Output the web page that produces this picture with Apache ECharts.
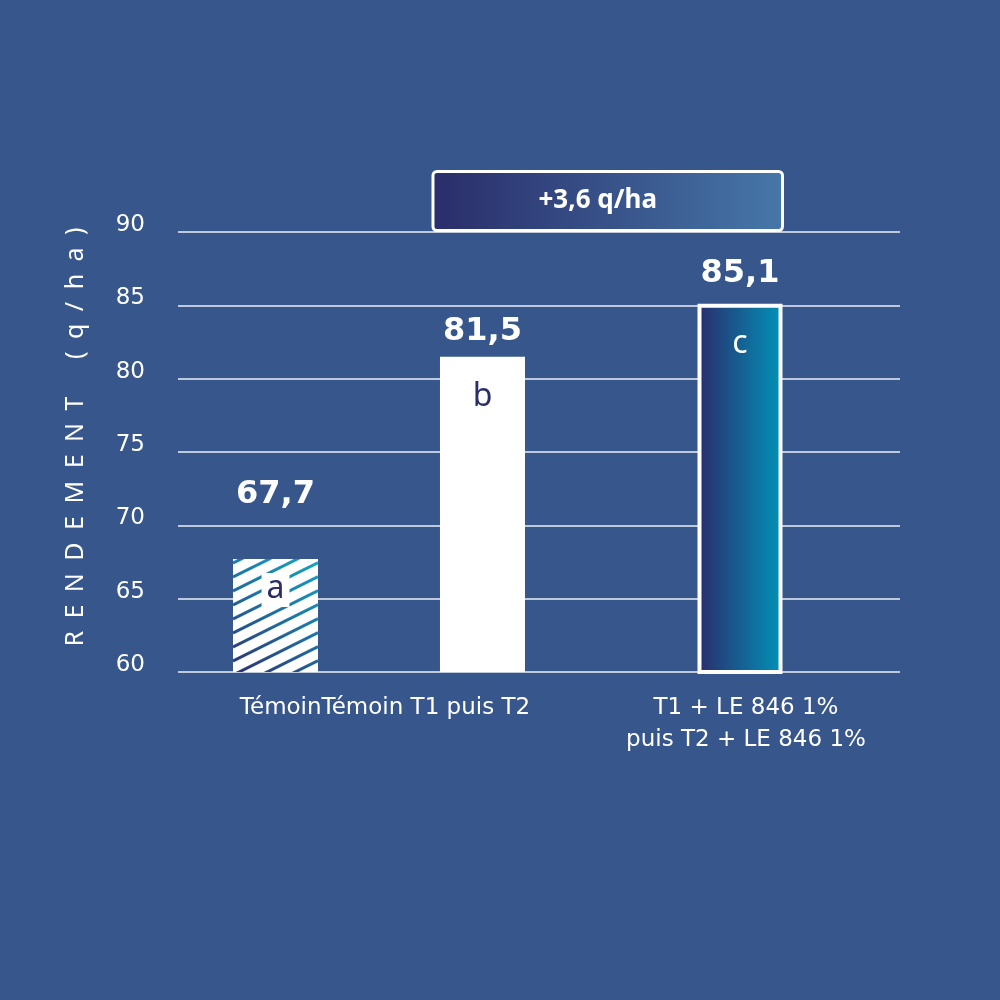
<!DOCTYPE html>
<html>
<head>
<meta charset="utf-8">
<script src="https://cdn.jsdelivr.net/npm/echarts@6/dist/echarts.min.js"></script>
<style>
html,body{margin:0;padding:0;background:#37568b;}
#c{width:1000px;height:1000px;}
</style>
</head>
<body>
<div id="c"></div>
<script>
// ---- data ----
const categories = ['TémoinTémoin T1 puis T2', 'T1 + LE 846 1%\npuis T2 + LE 846 1%'];
const temoin = [67.7, null];
const t1puisT2 = [81.5, null];
const leTreatment = [null, 85.1];
const groupLetters = ['a', 'b', 'c'];
const yMin = 60, yMax = 90, yStep = 5;
const gainText = '+3,6 q/ha';
const yAxisTitle = 'R\u2002E\u2002N\u2002D\u2002E\u2002M\u2002E\u2002N\u2002T\u2002\u2002\u2002(\u2002q\u2002/\u2002h\u2002a\u2002)';

// ---- helpers ----
const fmt = v => v == null ? '' : v.toFixed(1).replace('.', ',');
const zeros = arr => arr.map(v => v == null ? null : 0);
const FONT = 'Noto Sans';
const WIDE = 'DejaVu Sans';
const chart = echarts.init(document.getElementById('c'), null, {renderer: 'canvas'});

function valueLabel(arr, dist) {
  return {
    show: true, position: 'top', distance: dist,
    formatter: p => fmt(arr[p.dataIndex]),
    color: '#fff', fontSize: 32, fontWeight: 'bold', fontFamily: WIDE
  };
}
function letterLabel(letter, color, dist, bg) {
  return {
    show: true, position: 'insideTop', distance: dist,
    formatter: () => letter, color: color, fontSize: 32, fontFamily: FONT,
    backgroundColor: bg || 'transparent', padding: bg ? [0, 5, 2, 5] : 0
  };
}

function buildOption(hatched, graphic) {
  return {
    backgroundColor: '#37568b',
    animation: false,
    grid: [
      {left: 178, right: 100, top: 232, bottom: 328},
      {left: 198.5, right: 79.5, top: 232, bottom: 328}
    ],
    xAxis: [
      {gridIndex: 0, type: 'category', data: categories, show: false},
      {gridIndex: 1, type: 'category', data: categories,
        axisLine: {show: false}, axisTick: {show: false},
        axisLabel: {color: '#fff', fontSize: 23, fontFamily: WIDE, lineHeight: 32,
          margin: 20, padding: [0, 0, 0, 12], interval: 0}},
      {gridIndex: 1, type: 'category', data: categories, show: false}
    ],
    yAxis: [
      {gridIndex: 0, type: 'value', min: yMin, max: yMax, interval: yStep,
        axisLine: {show: false}, axisTick: {show: false},
        axisLabel: {color: '#fff', fontSize: 23, fontFamily: WIDE, margin: 33,
          verticalAlign: 'bottom', lineHeight: 14},
        splitLine: {lineStyle: {color: '#edf1f8', width: 1.5}},
        name: yAxisTitle, nameLocation: 'middle', nameRotate: 90, nameGap: 90,
        nameTextStyle: {color: '#fff', fontSize: 25, fontFamily: FONT, padding: [0, 0, 0, 30]}},
      {gridIndex: 1, type: 'value', min: yMin, max: yMax, interval: yStep, show: false,
        splitLine: {show: false}}
    ],
    series: [
      {type: 'bar', name: 'Témoin', xAxisIndex: 1, yAxisIndex: 1, stack: 'A', data: temoin,
        barWidth: 85, barGap: '143.5%', silent: true, z: 3,
        itemStyle: {color: hatched ? 'transparent' : '#ffffff'},
        label: letterLabel(groupLetters[0], '#2b2d66', 14, '#ffffff')},
      {type: 'bar', xAxisIndex: 1, yAxisIndex: 1, stack: 'A', data: zeros(temoin),
        barWidth: 85, barGap: '143.5%', silent: true,
        itemStyle: {color: 'transparent'}, label: valueLabel(temoin, 48)},
      {type: 'bar', name: 'Témoin T1 puis T2', xAxisIndex: 1, yAxisIndex: 1, stack: 'B', data: t1puisT2,
        barWidth: 85, barGap: '143.5%', silent: true,
        itemStyle: {color: '#ffffff'},
        label: letterLabel(groupLetters[1], '#2b2d66', 24)},
      {type: 'bar', xAxisIndex: 1, yAxisIndex: 1, stack: 'B', data: zeros(t1puisT2),
        barWidth: 85, barGap: '143.5%', silent: true,
        itemStyle: {color: 'transparent'}, label: valueLabel(t1puisT2, 9)},
      {type: 'bar', name: 'T1 + LE 846 1% puis T2 + LE 846 1%', xAxisIndex: 2, yAxisIndex: 1, stack: 'C',
        data: leTreatment, barWidth: 85, silent: true,
        itemStyle: {
          color: {type: 'linear', x: 0, y: 0, x2: 1, y2: 0,
            colorStops: [{offset: 0, color: '#2b2c6c'}, {offset: 1, color: '#0093b8'}]},
          borderColor: '#ffffff', borderWidth: 4
        },
        label: letterLabel(groupLetters[2], '#ffffff', 24)},
      {type: 'bar', xAxisIndex: 2, yAxisIndex: 1, stack: 'C', data: zeros(leTreatment),
        barWidth: 85, silent: true,
        itemStyle: {color: 'transparent'}, label: valueLabel(leTreatment, 14)}
    ],
    graphic: graphic || []
  };
}

chart.setOption(buildOption(false, []));

// ---- derive decorative elements from the library's own layout ----
const L1 = chart.getModel().getSeriesByIndex(0).getData().getItemLayout(0);
const L2 = chart.getModel().getSeriesByIndex(2).getData().getItemLayout(0);
const L3 = chart.getModel().getSeriesByIndex(4).getData().getItemLayout(1);
const yBase = chart.convertToPixel({yAxisIndex: 1}, yMin);   // visible bottom of the grid
const y90 = chart.convertToPixel({yAxisIndex: 0}, yMax);

// hatch image for the control bar, sized to its visible (clipped) extent
const b1x = Math.min(L1.x, L1.x + L1.width);
const b1top = Math.min(L1.y, L1.y + L1.height);
const b1bot = Math.min(Math.max(L1.y, L1.y + L1.height), yBase);
const bw = Math.abs(L1.width), bh = b1bot - b1top;
const pc = document.createElement('canvas');
pc.width = Math.round(bw); pc.height = Math.round(bh);
const ctx = pc.getContext('2d');
ctx.fillStyle = '#ffffff';
ctx.fillRect(0, 0, pc.width, pc.height);
const g = ctx.createLinearGradient(pc.width, 0, 0, pc.height);
g.addColorStop(0, '#10a3c0');
g.addColorStop(0.45, '#1a72a3');
g.addColorStop(1, '#2a2e70');
ctx.strokeStyle = g;
ctx.lineWidth = 3;
const slope = 0.5, spacing = 14;
for (let c = 4; c < pc.height + pc.width * slope + spacing; c += spacing) {
  ctx.beginPath();
  ctx.moveTo(0, c);
  ctx.lineTo(pc.width, c - pc.width * slope);
  ctx.stroke();
}

// gain box above bars b and c
const boxLeft = L2.x - 7;
const boxRight = L3.x + L3.width;
const boxH = 62;
const graphic = [
  {type: 'image', silent: true, z: 1, x: b1x, y: b1top,
    style: {image: pc, width: bw, height: bh}},
  {type: 'rect', silent: true, z: 10,
    shape: {x: boxLeft, y: y90 - boxH + 1.5, width: boxRight - boxLeft, height: boxH - 3, r: 4},
    style: {fill: {type: 'linear', x: 0, y: 0, x2: 1, y2: 0,
      colorStops: [{offset: 0, color: '#2a2d6a'}, {offset: 1, color: '#4677a8'}]},
      stroke: '#ffffff', lineWidth: 3}},
  {type: 'text', silent: true, z: 11,
    x: (boxLeft + boxRight) / 2 - 10, y: y90 - boxH / 2,
    style: {text: gainText, fill: '#ffffff', fontSize: 26, fontWeight: 'bold',
      fontFamily: 'Noto Sans', align: 'center', verticalAlign: 'middle'}}
];

chart.setOption(buildOption(true, graphic));
</script>
</body>
</html>
